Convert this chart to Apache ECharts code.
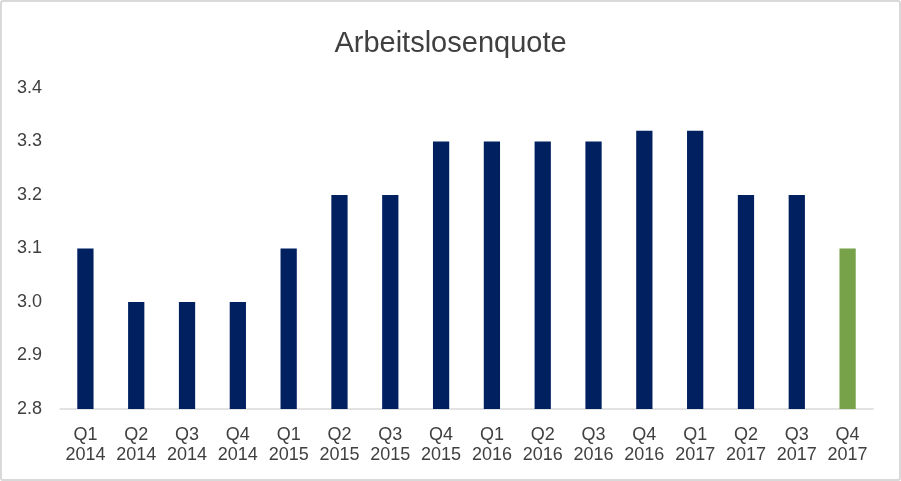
<!DOCTYPE html>
<html><head><meta charset="utf-8">
<script src="https://cdn.jsdelivr.net/npm/echarts@6/dist/echarts.min.js"></script>
<style>
html,body{margin:0;padding:0;background:#fff;}
#wrap{position:absolute;left:0;top:0;width:897px;height:477px;border:2px solid #d9d9d9;border-radius:3px;}
#c{width:897px;height:477px;}
</style></head>
<body><div id="wrap"><div id="c"></div></div>
<script>
const categories = ["Q1\n2014","Q2\n2014","Q3\n2014","Q4\n2014","Q1\n2015","Q2\n2015","Q3\n2015","Q4\n2015","Q1\n2016","Q2\n2016","Q3\n2016","Q4\n2016","Q1\n2017","Q2\n2017","Q3\n2017","Q4\n2017"];
const values = [3.1,3.0,3.0,3.0,3.1,3.2,3.2,3.3,3.3,3.3,3.3,3.32,3.32,3.2,3.2,3.1];
const highlightIndex = 15;
const chart = echarts.init(document.getElementById('c'));
chart.setOption({
  animation:false,
  title:{text:'Arbeitslosenquote',left:'center',top:22,textStyle:{fontFamily:'Liberation Sans',fontSize:29,fontWeight:'normal',color:'#404040'}},
  grid:{left:58,right:26,top:86,bottom:70},
  xAxis:{type:'category',data:categories,axisTick:{show:false},
    axisLine:{lineStyle:{color:'#d9d9d9',width:1.5}},
    axisLabel:{interval:0,fontFamily:'Liberation Sans',fontSize:18,color:'#404040',margin:16,lineHeight:20}},
  yAxis:{type:'value',min:2.8,max:3.4,interval:0.1,splitLine:{show:false},
    axisLabel:{fontFamily:'Liberation Sans',fontSize:18,color:'#404040',margin:18,formatter:v=>v.toFixed(1)}},
  series:[{type:'bar',barWidth:'32%',
    data:values.map((v,i)=>({value:v,itemStyle:{color:i===highlightIndex?'#77A24A':'#002060'}}))}]
});
</script></body></html>
